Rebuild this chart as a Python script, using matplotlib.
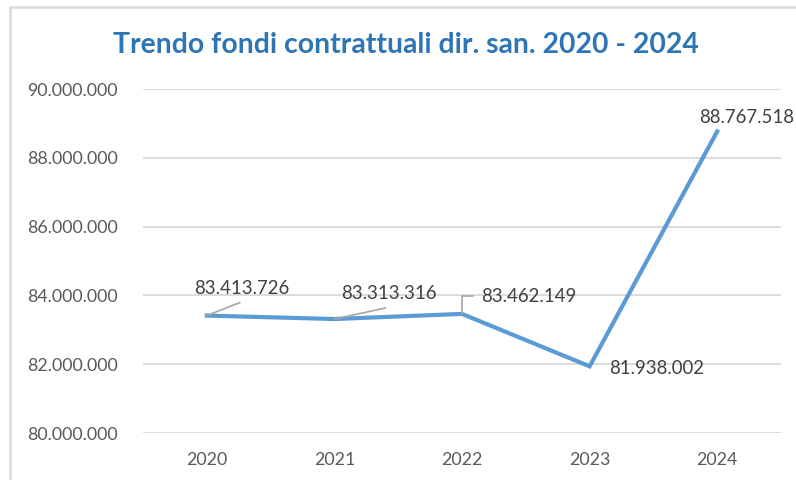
import matplotlib
matplotlib.use("Agg")
import matplotlib.pyplot as plt
from matplotlib.lines import Line2D
from matplotlib.patches import Rectangle

years = ["2020", "2021", "2022", "2023", "2024"]
values = [83413726, 83313316, 83462149, 81938002, 88767518]
yticks = [80000000, 82000000, 84000000, 86000000, 88000000, 90000000]
title = "Trendo fondi contrattuali dir. san. 2020 - 2024"

def fmt(v):
    return f"{v:,.0f}".replace(",", ".")

FONT = "Lato"
plt.rcParams["font.family"] = [FONT, "DejaVu Sans"]

fig = plt.figure(figsize=(7.96, 4.8), dpi=100)
W, H = 796, 480
ax = fig.add_axes([143 / W, 1 - 433 / H, (781 - 143) / W, (433 - 89) / H])

x = list(range(len(years)))
ax.plot(x, values, color="#5B9BD5", lw=3.0, solid_joinstyle="miter", zorder=3)

ax.set_xlim(-0.5, len(years) - 0.5)
ax.set_ylim(yticks[0], yticks[-1])
ax.set_yticks(yticks)
ax.set_yticklabels([fmt(v) for v in yticks])
ax.set_xticks(x)
ax.set_xticklabels(years)
ax.tick_params(axis="both", length=0, colors="#595959", labelsize=12.8)
ax.tick_params(axis="y", pad=18)
ax.tick_params(axis="x", pad=14)
ax.grid(axis="y", color="#D9D9D9", lw=1.3)
ax.set_axisbelow(True)
for s in ax.spines.values():
    s.set_visible(False)

# data labels (offsets in pixels)
label_offsets = [(35, 27, "center"), (54, 26, "center"), (67, 17, "center"),
                 (67, -2, "center"), (-2, 14, "right")]
for i, v in enumerate(values):
    dx, dy, ha = label_offsets[i]
    t = ax.annotate(fmt(v), xy=(i, v), xytext=(dx, dy), textcoords="offset pixels",
                    ha=ha, va="center", fontsize=13.4, color="#404040",
                    annotation_clip=False, zorder=5)

# leader lines (pixel offsets from point)
leaders = {0: [(0, 0), (33, 13)], 1: [(0, 0), (51, 11)], 2: [(0, 0), (0, 18), (11, 18)]}
fig.canvas.draw()
for i, pts in leaders.items():
    px, py = ax.transData.transform((i, values[i]))
    xs = [px + a for a, b in pts]
    ys = [py + b for a, b in pts]
    fig.add_artist(Line2D(xs, ys, transform=None, color="#A6A6A6", lw=1.2, zorder=4))

# last label: keep it just inside the right edge
last = ax.texts[-1]
px, py = ax.transData.transform((len(values) - 1, values[-1]))
last.set_horizontalalignment("right")
last.set_position((W - 2 - px, 14))

fig.text(406 / W, 1 - 45 / H, title, ha="center", va="center", fontsize=20.4,
         fontweight="bold", color="#2E75B6")

# chart border (extends beyond the image on right and bottom)
fig.add_artist(Rectangle((10 / W, -0.1), 1.2, 1 - 7 / H + 0.1, transform=fig.transFigure,
                         fill=False, edgecolor="#D9D9D9", lw=1.8))

fig.savefig("out.png", dpi=100)
